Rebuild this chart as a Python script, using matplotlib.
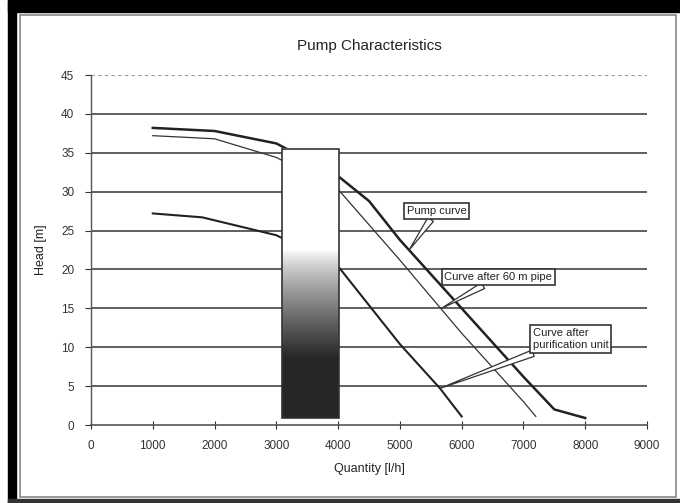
import numpy as np
import matplotlib.pyplot as plt
from matplotlib.patches import Rectangle

plt.rcParams['font.family'] = ['Liberation Sans', 'DejaVu Sans']

# pump curves
q_pump = [1000, 2000, 3000, 4000, 4500, 5000, 6000, 7000, 7500, 8000]
h_pump = [38.2, 37.8, 36.2, 32.0, 28.8, 23.8, 15.0, 6.2, 2.0, 0.9]

q_pipe = [1000, 2000, 3000, 4000, 5000, 6000, 7000, 7200]
h_pipe = [37.2, 36.8, 34.4, 30.3, 21.2, 11.8, 3.0, 1.1]

q_puri = [1000, 1800, 3000, 4000, 5000, 5650, 6000]
h_puri = [27.2, 26.7, 24.4, 20.4, 10.4, 4.7, 1.1]

# shaded block covering the curves
block_x = [3090, 4010]
block_y = [0.9, 35.5]

labels = ['Pump curve', 'Curve after 60 m pipe', 'Curve after\npurification unit']
label_pos = [(5110, 27.5), (5720, 19.0), (7150, 11.05)]
label_tip = [(5150, 22.5), (5673, 15.0), (5647, 4.7)]

fig = plt.figure(figsize=(6.8, 5.03), dpi=100)

# scanned page frame
fig.patches.append(Rectangle((8 / 680, 1 - 12 / 503), 672 / 680, 12 / 503,
                             transform=fig.transFigure, color='black', zorder=0))
fig.patches.append(Rectangle((8 / 680, 0), 8 / 680, 1,
                             transform=fig.transFigure, color='black', zorder=0))
fig.patches.append(Rectangle((8 / 680, 0), 672 / 680, 4 / 503,
                             transform=fig.transFigure, color='#333333', zorder=0))
fig.patches.append(Rectangle((20 / 680, 6 / 503), 656 / 680, 482 / 503,
                             transform=fig.transFigure, fill=False,
                             ec='#888888', lw=1.2, zorder=0))

ax = fig.add_axes([91 / 680, 78 / 503, 556 / 680, 350 / 503])
ax.set_xlim(0, 9000)
ax.set_ylim(0, 45)

for v in range(5, 45, 5):
    ax.axhline(v, color='#444444', lw=1.2, zorder=1)
ax.axhline(45, color='#999999', lw=0.8, ls=(0, (3, 3)), zorder=1)

ax.plot(q_pump, h_pump, color='#222222', lw=1.8, zorder=2)
ax.plot(q_pipe, h_pipe, color='#333333', lw=0.9, zorder=2)
ax.plot(q_puri, h_puri, color='#222222', lw=1.5, zorder=2)

# gradient block: white at top, dark at the bottom
grad = np.clip((22.5 - np.linspace(block_y[1], block_y[0], 200)) / 14, 0, 1) ** 0.8
grad = 1 - 0.85 * grad
img = np.tile(grad[:, None], (1, 10))
ax.imshow(img, cmap='gray', vmin=0, vmax=1, aspect='auto', zorder=3,
          extent=[block_x[0], block_x[1], block_y[0], block_y[1]])
ax.add_patch(Rectangle((block_x[0], block_y[0]), block_x[1] - block_x[0],
                       block_y[1] - block_y[0], fill=False, ec='#333333',
                       lw=1.2, zorder=4))

for txt, pos, tip in zip(labels, label_pos, label_tip):
    ax.annotate(txt, xy=tip, xytext=pos, ha='left', va='center', fontsize=8,
                zorder=5, color='#222222',
                bbox=dict(boxstyle='square,pad=0.25', fc='white', ec='#333333', lw=1.2),
                arrowprops=dict(arrowstyle='wedge,tail_width=0.6', fc='white',
                                ec='#333333', lw=0.9, shrinkA=0, shrinkB=0))

ax.set_xticks(range(0, 9001, 1000))
ax.set_yticks(range(0, 46, 5))
ax.tick_params(axis='x', direction='inout', length=6, labelsize=8.5, pad=8,
               colors='#333333')
ax.tick_params(axis='y', direction='out', length=4, labelsize=8.5, pad=8,
               colors='#333333')
for s in ['top', 'right']:
    ax.spines[s].set_visible(False)
ax.spines['left'].set_color('#555555')
ax.spines['bottom'].set_color('#555555')
ax.spines['left'].set_linewidth(1.0)
ax.spines['bottom'].set_linewidth(1.2)

ax.set_title('Pump Characteristics', fontsize=11, pad=18, color='#222222')
ax.set_xlabel('Quantity [l/h]', fontsize=9, labelpad=8, color='#222222')
ax.set_ylabel('Head [m]', fontsize=9, labelpad=10, color='#222222')

fig.savefig('out.png', dpi=100)
